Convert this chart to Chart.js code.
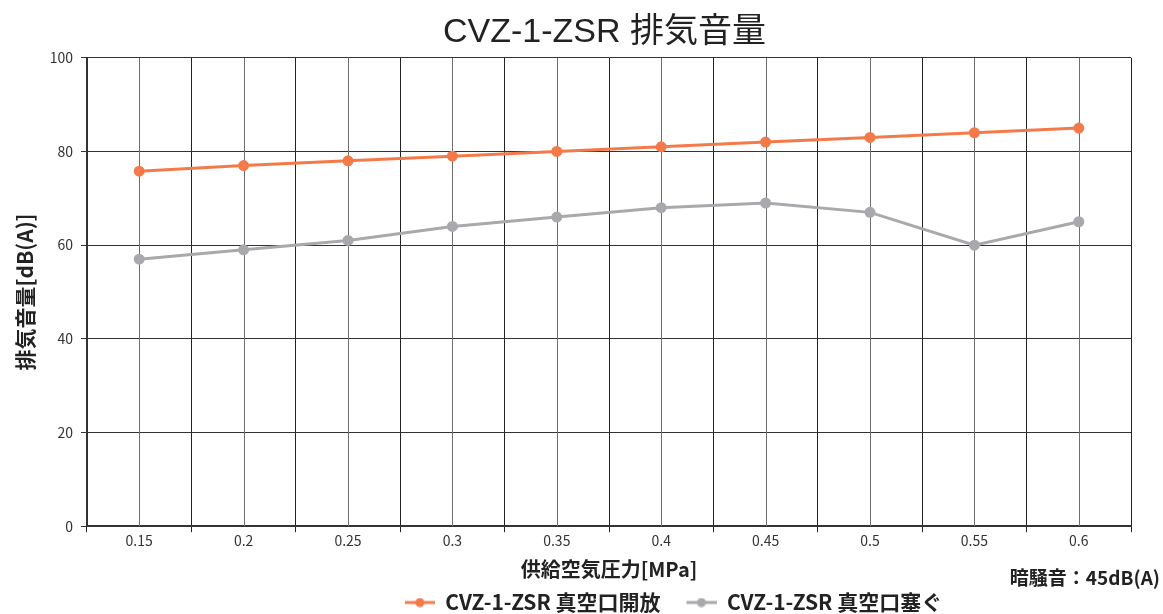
<!DOCTYPE html>
<html lang="ja">
<head>
<meta charset="utf-8">
<script src="https://cdn.jsdelivr.net/npm/chart.js@4"></script>
<style>
  html, body { margin: 0; padding: 0; background: #fff; }
  #wrap { position: relative; width: 1163px; height: 614px; }
  #note { position: absolute; right: 3px; top: 563px; font: bold 19px "Noto Sans CJK JP", sans-serif; color: #222; }
</style>
</head>
<body>
<div id="wrap">
  <canvas id="c" width="1163" height="614"></canvas>
  <div id="note">暗騒音：45dB(A)</div>
</div>
<script>
// 供給空気圧力 [MPa]
const pressures = ["0.15", "0.2", "0.25", "0.3", "0.35", "0.4", "0.45", "0.5", "0.55", "0.6"];
// 排気音量 [dB(A)]
const openValues   = [75.8, 77, 78, 79, 80, 81, 82, 83, 84, 85];
const closedValues = [57, 59, 61, 64, 66, 68, 69, 67, 60, 65];
const yTicks = [0, 20, 40, 60, 80, 100];

const ORANGE = "#f47a4a";
const GRAY = "#a9a9ad";
const FONT = '"Noto Sans CJK JP", "Noto Sans", sans-serif';

// 凡例用の「線＋点」マーカー（左側は項目間の余白）
const MARK_W = 56;
function legendMark(color) {
  const cv = document.createElement("canvas");
  cv.width = MARK_W; cv.height = 10;
  const g = cv.getContext("2d");
  g.strokeStyle = color; g.lineWidth = 3;
  g.beginPath(); g.moveTo(MARK_W - 30, 5); g.lineTo(MARK_W, 5); g.stroke();
  g.fillStyle = color;
  g.beginPath(); g.arc(MARK_W - 15, 5, 4.5, 0, Math.PI * 2); g.fill();
  return cv;
}
const marks = [legendMark(ORANGE), legendMark(GRAY)];

// カテゴリ中心の縦グリッド線
const centerLines = {
  id: "centerLines",
  beforeDatasetsDraw(chart) {
    const { ctx, chartArea: a, scales: { x } } = chart;
    ctx.save();
    ctx.strokeStyle = "#6e6e6e";
    ctx.lineWidth = 1;
    pressures.forEach((_, i) => {
      const px = Math.round(x.getPixelForValue(i)) + 0.5;
      ctx.beginPath(); ctx.moveTo(px, a.top); ctx.lineTo(px, a.bottom); ctx.stroke();
    });
    ctx.restore();
  }
};

// 凡例とタイトルを右寄りに置く
const shiftBoxes = {
  id: "shiftBoxes",
  afterLayout(chart) {
    chart.legend.left += 89;
    chart.legend.right += 89;
    chart.titleBlock.left += 33;
    chart.titleBlock.right += 33;
  }
};

new Chart(document.getElementById("c").getContext("2d"), {
  type: "line",
  data: {
    labels: pressures,
    datasets: [
      {
        label: "CVZ-1-ZSR 真空口開放",
        data: openValues,
        borderColor: ORANGE, backgroundColor: ORANGE,
        borderWidth: 3, pointRadius: 4, pointHoverRadius: 4, tension: 0
      },
      {
        label: "CVZ-1-ZSR 真空口塞ぐ",
        data: closedValues,
        borderColor: GRAY, backgroundColor: GRAY,
        borderWidth: 3, pointRadius: 4, pointHoverRadius: 4, tension: 0
      }
    ]
  },
  options: {
    responsive: false, animation: false,
    layout: { padding: { left: 12, right: 32, top: 0, bottom: -9 } },
    plugins: {
      title: {
        display: true, text: "CVZ-1-ZSR 排気音量",
        color: "#222", font: { family: '"Liberation Sans", "Noto Sans CJK JP", sans-serif', size: 34, weight: "normal" },
        padding: { top: 12, bottom: 5 }
      },
      legend: {
        position: "bottom",
        labels: {
          usePointStyle: true,
          pointStyleWidth: MARK_W,
          color: "#222",
          font: { family: FONT, size: 21, weight: "bold" },
          padding: 0,
          generateLabels(chart) {
            const items = Chart.defaults.plugins.legend.labels.generateLabels(chart);
            items.forEach((it, i) => { it.pointStyle = marks[i]; });
            return items;
          }
        }
      },
      tooltip: { enabled: false }
    },
    scales: {
      x: {
        offset: true,
        grid: { offset: true, color: "#222", lineWidth: 1, tickLength: 6 },
        border: { color: "#333", width: 2 },
        ticks: { color: "#333", font: { family: FONT, size: 14 }, padding: 0 },
        title: {
          display: true, text: "供給空気圧力[MPa]", color: "#222",
          font: { family: FONT, size: 20, weight: "bold" }, padding: { top: 8, bottom: 11 }
        }
      },
      y: {
        min: 0, max: 100,
        afterBuildTicks(axis) { axis.ticks = yTicks.map(v => ({ value: v })); },
        afterFit(axis) { axis.width = 75; },
        grid: { color: "#333", lineWidth: 1, tickLength: 6 },
        border: { color: "#333", width: 2 },
        ticks: { color: "#333", font: { family: FONT, size: 14 }, padding: 8 },
        title: {
          display: true, text: "排気音量[dB(A)]", color: "#222",
          font: { family: FONT, size: 21, weight: "bold" }, padding: { top: 0, bottom: 6 }
        }
      }
    }
  },
  plugins: [centerLines, shiftBoxes]
});
</script>
</body>
</html>
